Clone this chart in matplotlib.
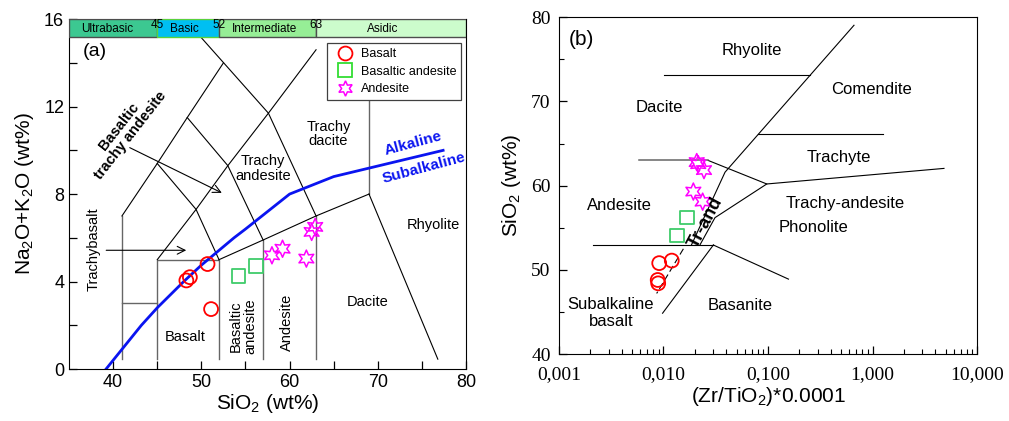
import matplotlib.pyplot as plt
import numpy as np
from matplotlib.patches import Rectangle
from matplotlib.lines import Line2D

plt.rcParams['font.family'] = ['Liberation Sans', 'DejaVu Sans']
plt.rcParams['mathtext.fontset'] = 'custom'
plt.rcParams['mathtext.rm'] = 'Liberation Sans'
plt.rcParams['mathtext.it'] = 'Liberation Sans'

# ---- (a) TAS samples
basalt_sio2 = [48.3, 48.7, 50.7, 51.1]
basalt_alk = [4.05, 4.2, 4.8, 2.74]
basand_sio2 = [54.2, 56.2]
basand_alk = [4.26, 4.7]
andes_sio2 = [58.0, 59.2, 61.9, 62.5, 62.9]
andes_alk = [5.2, 5.5, 5.05, 6.27, 6.5]

# ---- (b) Zr/TiO2 vs SiO2 samples
basalt_zr = [0.0091, 0.0120, 0.0088, 0.0089]
basalt_si = [50.8, 51.1, 48.8, 48.4]
basand_zr = [0.0167, 0.0134]
basand_si = [56.2, 54.1]
andes_zr = [0.0208, 0.0215, 0.0244, 0.0193, 0.0237]
andes_si = [62.8, 62.55, 61.85, 59.3, 58.1]

# Irvine & Baragar alkaline / subalkaline divide
ib_sio2 = [39.2, 40, 43.2, 45, 48, 50, 53.7, 55, 60, 65, 77.4]
ib_alk = [0, 0.4, 2, 2.8, 4, 4.75, 6, 6.4, 8, 8.8, 10]

# TAS field boundaries (Le Bas et al.)
tas_black = [
    [(41, 7), (45, 9.4), (48.4, 11.5), (52.5, 14)],
    [(45, 9.4), (49.4, 7.3), (52, 5)],
    [(45, 5), (49.4, 7.3), (53, 9.3), (57.6, 11.7), (63, 14.6)],
    [(48.4, 11.5), (53, 9.3), (57, 5.9)],
    [(50, 15.15), (57.6, 11.7), (63, 7)],
    [(52, 5), (57, 5.9), (63, 7), (69, 8)],
    [(69, 8), (76.8, 0.45)],
]
tas_grey = [
    [(41, 0.45), (41, 7)],
    [(41, 3), (45, 3)],
    [(45, 0.45), (45, 5), (52, 5), (52, 0.45)],
    [(57, 0.45), (57, 5.9)],
    [(63, 0.45), (63, 7)],
    [(69, 8), (69, 13)],
]
tas_fields = [("Basalt", 48.2, 1.46, 0), ("Basaltic\nandesite", 54.7, 1.96, 90),
              ("Andesite", 59.7, 2.15, 90), ("Dacite", 68.9, 3.05, 0),
              ("Rhyolite", 76.3, 6.6, 0), ("Trachy\nandesite", 57.0, 9.16, 0),
              ("Trachy\ndacite", 64.4, 10.75, 0), ("Trachybasalt", 37.75, 5.5, 90)]

# silica classes band
band_names = ["Ultrabasic", "Basic", "Intermediate", "Asidic"]
band_edges = [35, 45, 52, 63, 80]
band_colors = ["#3cc891", "#00bff2", "#96ee96", "#ccfccc"]
band_text_x = [39.3, 48.1, 57.2, 70.6]

# Winchester & Floyd boundaries
wf_black = [
    [(0.0101, 73.1), (0.252, 73.1)],
    [(0.665, 79.05), (0.0388, 61.6), (0.0185, 52.95)],
    [(0.0807, 66.1), (1.27, 66.1)],
    [(0.0267, 63.0), (0.0973, 60.2), (4.83, 62.05)],
    [(0.0973, 60.2), (0.0311, 56.2), (0.0223, 52.95)],
    [(0.0021, 52.95), (0.030, 52.95)],
    [(0.030, 52.95), (0.157, 48.9)],
    [(0.030, 52.95), (0.0098, 44.85)],
]
wf_grey = [[(0.0058, 63.0), (0.0267, 63.0)]]
wf_dashed = [[(0.0155, 52.5), (0.0086, 47.2)]]
wf_fields = [("Rhyolite", 0.070, 76.0), ("Comendite", 0.98, 71.4), ("Dacite", 0.0091, 69.3),
             ("Trachyte", 0.471, 63.35), ("Andesite", 0.00378, 57.6),
             ("Trachy-andesite", 0.546, 57.9), ("Phonolite", 0.272, 55.05),
             ("Basanite", 0.054, 45.8), ("Subalkaline\nbasalt", 0.00313, 44.85)]

red = "#ff0000"
green = "#3fcc6a"
mag = "#ff00ff"
hexstar = (6, 1, 0)

fig = plt.figure(figsize=(10.09, 4.21), dpi=100)
ax1 = fig.add_axes([0.0684, 0.1235, 0.3935, 0.831])
ax2 = fig.add_axes([0.554, 0.159, 0.4143, 0.800])

# ================= (a)
for seg in tas_grey:
    xs, ys = zip(*seg)
    ax1.plot(xs, ys, color="0.4", lw=1)
for seg in tas_black:
    xs, ys = zip(*seg)
    ax1.plot(xs, ys, color="k", lw=0.8)

ax1.plot(ib_sio2, ib_alk, color="#0a14f0", lw=2)

ax1.annotate("", xy=(48.6, 5.43), xytext=(38.9, 5.43),
             arrowprops=dict(arrowstyle="->", color="k", lw=0.8, mutation_scale=14))
ax1.annotate("", xy=(52.6, 8.0), xytext=(41.6, 10.18),
             arrowprops=dict(arrowstyle="->", color="k", lw=0.8, mutation_scale=14))

for name, x, y, rot in tas_fields:
    ax1.text(x, y, name, fontsize=10.5, rotation=rot, ha="center", va="center",
             multialignment="center", linespacing=1.05)
ax1.text(41.3, 10.9, "Basaltic\ntrachy andesite", fontsize=10.5, fontweight="bold",
         rotation=52, ha="center", va="center", multialignment="center", linespacing=1.0)
ax1.text(74.0, 10.3, "Alkaline", color="#0a14f0", fontsize=11, fontweight="bold",
         rotation=15, ha="center", va="center")
ax1.text(75.2, 9.17, "Subalkaline", color="#0a14f0", fontsize=11, fontweight="bold",
         rotation=15, ha="center", va="center")
ax1.text(36.6, 14.5, "(a)", fontsize=14, ha="left", va="center")

ax1.scatter(basalt_sio2, basalt_alk, s=100, facecolor="none", edgecolor=red, lw=1.3, zorder=5)
ax1.scatter(basand_sio2, basand_alk, s=95, marker="s", facecolor="none", edgecolor=green, lw=1.3, zorder=5)
ax1.scatter(andes_sio2, andes_alk, s=150, marker=hexstar, facecolor="none", edgecolor=mag, lw=1.1, zorder=5)

# silica band along the top
for i in range(4):
    ec = "#5ad23c" if band_names[i] == "Basic" else "0.3"
    ax1.add_patch(Rectangle((band_edges[i], 15.17), band_edges[i + 1] - band_edges[i], 0.83,
                            facecolor=band_colors[i], edgecolor=ec, lw=1, zorder=6))
    ax1.text(band_text_x[i], 15.55, band_names[i], fontsize=8.5, ha="center", va="center", zorder=7)
for b in band_edges[1:4]:
    ax1.text(b, 15.72, str(b), fontsize=8.5, ha="center", va="center", zorder=7)

handles = [Line2D([], [], ls="none", marker="o", ms=10, mfc="none", mec=red, mew=1.3),
           Line2D([], [], ls="none", marker="s", ms=9.5, mfc="none", mec="#33dd33", mew=1.3),
           Line2D([], [], ls="none", marker=hexstar, ms=11, mfc="none", mec=mag, mew=1.1)]
leg = ax1.legend(handles, ["Basalt", "Basaltic andesite", "Andesite"], loc="upper right",
                 bbox_to_anchor=(0.988, 0.932), borderaxespad=0, fancybox=False,
                 edgecolor="0.25", fontsize=9, handletextpad=0.3, borderpad=0.4,
                 labelspacing=0.45, framealpha=1)
leg.set_zorder(8)
leg.get_frame().set_linewidth(0.9)

ax1.set_xlim(35, 80)
ax1.set_ylim(0, 16)
ax1.set_xticks([40, 50, 60, 70, 80])
ax1.set_xticks([45, 55, 65, 75], minor=True)
ax1.set_yticks([0, 4, 8, 12, 16])
ax1.set_yticks([2, 6, 10, 14], minor=True)
ax1.tick_params(which="both", direction="in", length=6, labelsize=13, width=0.9)
ax1.set_xlabel("SiO$_2$ (wt%)", fontsize=15, labelpad=1)
ax1.set_ylabel("Na$_2$O+K$_2$O (wt%)", fontsize=15, labelpad=6)

# ================= (b)
ax2.set_xscale("log")
for seg in wf_black:
    xs, ys = zip(*seg)
    ax2.plot(xs, ys, color="k", lw=0.8)
for seg in wf_grey:
    xs, ys = zip(*seg)
    ax2.plot(xs, ys, color="0.4", lw=1.1)
for seg in wf_dashed:
    xs, ys = zip(*seg)
    ax2.plot(xs, ys, color="k", lw=0.8, dashes=(6, 3))

for name, x, y in wf_fields:
    ax2.text(x, y, name, fontsize=12, ha="center", va="center", multialignment="center")
ax2.text(0.0252, 55.6, "Tr-and", fontsize=13, fontweight="bold", rotation=62,
         ha="center", va="center", zorder=6)
ax2.text(0.00125, 77.3, "(b)", fontsize=15, ha="left", va="center")

ax2.scatter(basalt_zr, basalt_si, s=100, facecolor="none", edgecolor=red, lw=1.3, zorder=5)
ax2.scatter(basand_zr, basand_si, s=95, marker="s", facecolor="none", edgecolor=green, lw=1.3, zorder=5)
ax2.scatter(andes_zr, andes_si, s=150, marker=hexstar, facecolor="none", edgecolor=mag, lw=1.1, zorder=5)

ax2.set_xlim(0.001, 10)
ax2.set_ylim(40, 80)
ax2.set_xticks([0.001, 0.01, 0.1, 1, 10])
ax2.set_xticklabels(["0,001", "0,010", "0,100", "1,000", "10,000"])
ax2.set_yticks([40, 50, 60, 70, 80])
ax2.set_yticks([45, 55, 65, 75], minor=True)
ax2.tick_params(which="major", direction="in", length=6, labelsize=14, width=0.9)
ax2.tick_params(which="minor", direction="in", length=3.5, width=0.8)
ax2.tick_params(axis="x", which="major", pad=9)
ax2.tick_params(axis="y", which="major", pad=6)
for lab in ax2.get_xticklabels() + ax2.get_yticklabels():
    lab.set_family("Liberation Serif")
ax2.set_xlabel("(Zr/TiO$_2$)*0.0001", fontsize=15, labelpad=1)
ax2.set_ylabel("SiO$_2$ (wt%)", fontsize=15, labelpad=6)

fig.savefig("out.png", dpi=100)
